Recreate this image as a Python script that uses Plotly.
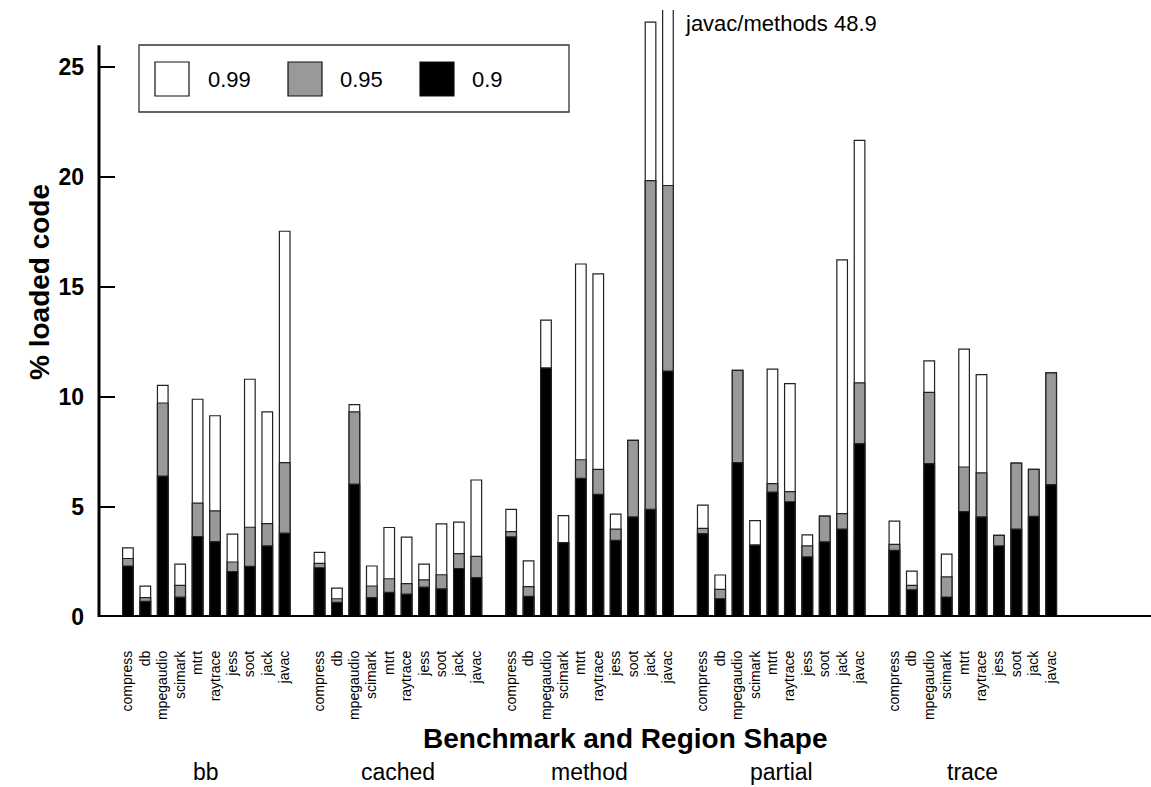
import plotly.graph_objects as go

benchmarks = ["compress", "db", "mpegaudio", "scimark", "mtrt", "raytrace", "jess", "soot", "jack", "javac"]
shapes_names = ["bb", "cached", "method", "partial", "trace"]
series_names = ["0.99", "0.95", "0.9"]

# % loaded code per region shape, for each benchmark (cumulative thresholds)
bb_99 = [3.14, 1.40, 10.53, 2.40, 9.90, 9.15, 3.77, 10.81, 9.33, 17.54]
bb_95 = [2.66, 0.88, 9.73, 1.44, 5.18, 4.83, 2.50, 4.08, 4.25, 7.02]
bb_90 = [2.32, 0.71, 6.41, 0.90, 3.66, 3.43, 2.07, 2.30, 3.23, 3.81]

cached_99 = [2.94, 1.31, 9.66, 2.32, 4.07, 3.63, 2.40, 4.23, 4.31, 6.23]
cached_95 = [2.44, 0.83, 9.33, 1.41, 1.74, 1.52, 1.69, 1.92, 2.88, 2.76]
cached_90 = [2.24, 0.67, 6.04, 0.88, 1.12, 1.04, 1.36, 1.28, 2.20, 1.79]

method_99 = [4.89, 2.55, 13.50, 4.61, 16.05, 15.60, 4.68, 8.03, 27.05, 48.9]
method_95 = [3.88, 1.38, 11.32, 3.38, 7.15, 6.71, 4.00, 8.03, 19.84, 19.62]
method_90 = [3.64, 0.94, 11.32, 3.38, 6.30, 5.58, 3.48, 4.55, 4.89, 11.18]

partial_99 = [5.09, 1.91, 11.21, 4.38, 11.27, 10.61, 3.73, 4.59, 16.24, 21.67]
partial_95 = [4.03, 1.26, 11.21, 3.27, 6.06, 5.70, 3.23, 4.59, 4.70, 10.65]
partial_90 = [3.79, 0.83, 7.02, 3.27, 5.68, 5.24, 2.73, 3.42, 4.00, 7.88]

trace_99 = [4.36, 2.09, 11.65, 2.86, 12.18, 11.02, 3.71, 7.00, 6.71, 11.10]
trace_95 = [3.30, 1.44, 10.21, 1.82, 6.82, 6.55, 3.71, 7.00, 6.71, 11.10]
trace_90 = [3.03, 1.24, 6.97, 0.91, 4.79, 4.55, 3.23, 4.00, 4.58, 6.02]

y_ticks = [0, 5, 10, 15, 20, 25]
clip_note = "javac/methods 48.9"

series_99 = bb_99 + cached_99 + method_99 + partial_99 + trace_99
series_95 = bb_95 + cached_95 + method_95 + partial_95 + trace_95
series_90 = bb_90 + cached_90 + method_90 + partial_90 + trace_90

slot = len(benchmarks) + 1
xpos = [g * slot + i for g in range(len(shapes_names)) for i in range(len(benchmarks))]
xlabels = [b for _ in shapes_names for b in benchmarks]

FONT = "Liberation Sans, Arial, Helvetica, sans-serif"
W, H = 1151, 787
ML, MR, MT, MB = 99, 0, 10, 170
PW, PH = W - ML - MR, H - MT - MB


def px(p):
    return (p - ML) / PW


def py(p):
    return (H - MB - p) / PH


fig = go.Figure()
colors = ["#ffffff", "#999999", "#000000"]
for name, vals, col in zip(series_names, [series_99, series_95, series_90], colors):
    fig.add_trace(go.Bar(
        x=xpos, y=vals, name=name, width=0.61,
        marker=dict(color=col, line=dict(color="#222222", width=1.2)),
        showlegend=False,
    ))

shp = []
# axis lines
shp.append(dict(type="line", xref="paper", yref="y", x0=0, x1=0, y0=0, y1=26,
                line=dict(color="black", width=3)))
shp.append(dict(type="line", xref="paper", yref="y", x0=0, x1=1, y0=0, y1=0,
                line=dict(color="black", width=4)))
# legend box and swatches
shp.append(dict(type="rect", xref="paper", yref="paper", x0=px(139), x1=px(569), y0=py(112), y1=py(45),
                line=dict(color="#333333", width=1.3), fillcolor="white"))
sw_x = [155, 288, 420]
txt_x = [206, 338, 470]
annos = []
for sx, tx, col, name in zip(sw_x, txt_x, colors, series_names):
    shp.append(dict(type="rect", xref="paper", yref="paper", x0=px(sx), x1=px(sx + 34), y0=py(96), y1=py(62),
                    line=dict(color="#111111", width=1.2), fillcolor=col))
    annos.append(dict(xref="paper", yref="paper", x=px(tx), y=py(79), xanchor="left", yanchor="middle",
                      text=name, showarrow=False, font=dict(family=FONT, size=22, color="black")))

# group labels
for g, name in enumerate(shapes_names):
    cx = g * slot + (len(benchmarks) - 1) / 2
    annos.append(dict(xref="x", yref="paper", x=cx, y=py(772), xanchor="center", yanchor="middle",
                      text=name, showarrow=False, font=dict(family=FONT, size=23, color="black")))

# axis titles
annos.append(dict(xref="paper", yref="paper", x=0.5, y=py(738), xanchor="center", yanchor="middle",
                  text="<b>Benchmark and Region Shape</b>", showarrow=False,
                  font=dict(family=FONT, size=28, color="black")))
annos.append(dict(xref="paper", yref="paper", x=px(39), y=py(282), xanchor="center", yanchor="middle",
                  text="<b>% loaded code</b>", textangle=-90, showarrow=False,
                  font=dict(family=FONT, size=28, color="black")))
# clipped bar note
annos.append(dict(xref="x", yref="y", x=2 * slot + 9, y=27.0, xshift=15, xanchor="left", yanchor="middle",
                  text=clip_note, showarrow=False, font=dict(family=FONT, size=22, color="black")))

fig.update_layout(
    width=W, height=H,
    margin=dict(l=ML, r=MR, t=MT, b=MB, pad=0),
    barmode="overlay",
    plot_bgcolor="white", paper_bgcolor="white",
    shapes=shp, annotations=annos,
    font=dict(family=FONT, color="black"),
    xaxis=dict(range=[-1.66, 58.73], tickmode="array", tickvals=xpos, ticktext=xlabels,
               tickangle=-90, tickfont=dict(family=FONT, size=14, color="black"),
               ticks="", showline=False, showgrid=False, zeroline=False,
               ticklabelstandoff=30),
    yaxis=dict(range=[0, 27.6], tickmode="array", tickvals=y_ticks,
               tickfont=dict(family=FONT, size=23, color="black", weight="bold"),
               ticks="inside", ticklen=16, tickwidth=2, tickcolor="black",
               showline=False, showgrid=False, zeroline=False, ticklabelstandoff=14),
)

fig.write_html("out.html", config={"displayModeBar": False},
               post_script="document.body.style.margin='0';document.body.style.overflow='hidden';")
